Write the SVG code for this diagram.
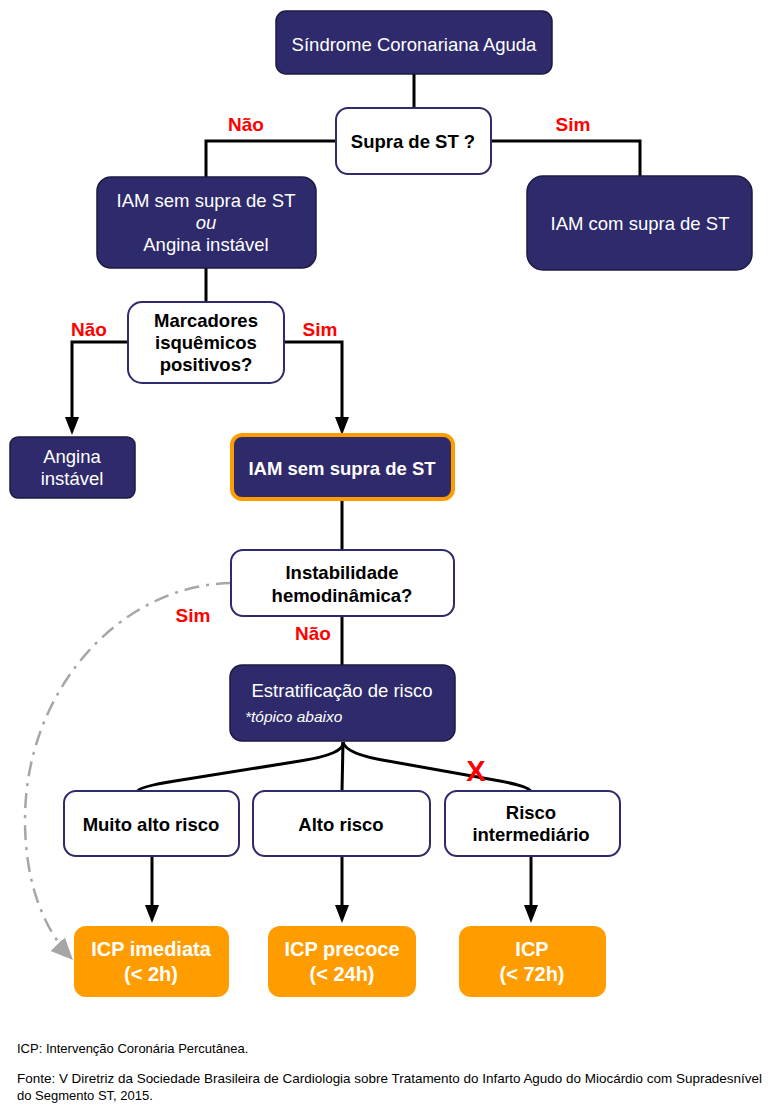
<svg xmlns="http://www.w3.org/2000/svg" width="777" height="1113" viewBox="0 0 777 1113">
<defs>
<marker id="garr" viewBox="0 0 10 10" refX="10" refY="5" markerWidth="22" markerHeight="22" markerUnits="userSpaceOnUse" orient="auto"><path d="M0,0.5 L10,5 L0,9.5 z" fill="#a6a6a6"/></marker>
<style>
text{font-family:"Liberation Sans",Arial,sans-serif;text-anchor:middle}
.navy{fill:#2e2a6b;stroke:#1c1a40;stroke-width:1.5}
.white{fill:#fff;stroke:#2e2a6b;stroke-width:2}
.orange{fill:#ff9c00;stroke:none}
.wt{fill:#fff;font-size:18.5px}
.bt{fill:#000;font-size:18.5px;font-weight:bold}
.ot{fill:#fff;font-size:20px;font-weight:bold}
.lbl{fill:#ff0000;font-size:19px;font-weight:bold}
.ln{fill:none;stroke:#000;stroke-width:3}
.ah{fill:#000}
.foot{fill:#000;font-size:13px;text-anchor:start}
</style>
</defs>
<g id="connectors">
<path class="ln" d="M414,74 V108"/>
<path class="ln" d="M336,141 H206 V178"/>
<path class="ln" d="M491,141 H640 V176"/>
<path class="ln" d="M206,268 V302"/>
<path class="ln" d="M128,342 H72 V420"/>
<path class="ah" d="M65,417 L79,417 L72,435 z"/>
<path class="ln" d="M284,342 H342 V420"/>
<path class="ah" d="M335,417 L349,417 L342,435 z"/>
<path class="ln" d="M342,500 V551"/>
<path class="ln" d="M342,616 V665"/>
<path class="ln" d="M343,742 Q345,754 300,761 L175,781 Q137,787 137,792"/>
<path class="ln" d="M343,742 L342,792"/>
<path class="ln" d="M343,742 Q345,754 388,761 L500,781 Q531,787 531,792"/>
<path class="ln" d="M152,856 V908"/>
<path class="ah" d="M145,905 L159,905 L152,923 z"/>
<path class="ln" d="M342,856 V908"/>
<path class="ah" d="M335,905 L349,905 L342,923 z"/>
<path class="ln" d="M531,856 V908"/>
<path class="ah" d="M524,905 L538,905 L531,923 z"/>
<path d="M231,583 C120,585 25,690 25,820 C25,880 42,928 73,960" fill="none" stroke="#a6a6a6" stroke-width="2.5" stroke-dasharray="15,7,3,7" marker-end="url(#garr)"/>
<text class="lbl" x="246" y="131">Não</text>
<text class="lbl" x="573" y="131">Sim</text>
<text class="lbl" x="89" y="336">Não</text>
<text class="lbl" x="320" y="336">Sim</text>
<text class="lbl" x="313" y="640">Não</text>
<text class="lbl" x="193" y="622">Sim</text>
<text x="476" y="781" fill="#ff0000" font-size="29" font-weight="bold">X</text>
</g>
<g id="n-sca"><rect class="navy" x="276" y="11" width="276" height="63" rx="10"/><text class="wt" x="414" y="51">Síndrome Coronariana Aguda</text></g>
<g id="n-supra"><rect class="white" x="336" y="108" width="155" height="66" rx="12"/><text class="bt" x="413" y="148">Supra de ST ?</text></g>
<g id="n-iamsem-ou"><rect class="navy" x="97" y="177" width="219" height="91" rx="14"/><text class="wt" x="206" y="207">IAM sem supra de ST</text><text class="wt" x="206" y="229" font-style="italic">ou</text><text class="wt" x="206" y="251">Angina instável</text></g>
<g id="n-iamcom"><rect class="navy" x="527" y="176" width="225" height="94" rx="16" stroke="#8a88b0"/><text class="wt" x="640" y="230">IAM com supra de ST</text></g>
<g id="n-marc"><rect class="white" x="128" y="302" width="156" height="81" rx="14"/><text class="bt" x="206" y="327">Marcadores</text><text class="bt" x="206" y="349">isquêmicos</text><text class="bt" x="206" y="371">positivos?</text></g>
<g id="n-angina"><rect class="navy" x="10" y="437" width="125" height="61" rx="8" stroke="#4a4680"/><text class="wt" x="72" y="463">Angina</text><text class="wt" x="72" y="485">instável</text></g>
<g id="n-iamsem"><rect x="232" y="435" width="221" height="64" rx="10" fill="#2e2a6b" stroke="#ff9c00" stroke-width="4"/><text class="bt" x="342" y="475" style="fill:#fff">IAM sem supra de ST</text></g>
<g id="n-instab"><rect class="white" x="231" y="550" width="223" height="66" rx="12"/><text class="bt" x="342" y="579">Instabilidade</text><text class="bt" x="342" y="602">hemodinâmica?</text></g>
<g id="n-estrat"><rect class="navy" x="230" y="665" width="225" height="76" rx="12" stroke="#2e2a6b"/><text class="wt" x="342" y="697">Estratificação de risco</text><text x="245" y="722" fill="#fff" font-size="15.5" font-style="italic" style="text-anchor:start">*tópico abaixo</text></g>
<g id="n-muito"><rect class="white" x="64" y="791" width="175" height="65" rx="12"/><text class="bt" x="151" y="831">Muito alto risco</text></g>
<g id="n-alto"><rect class="white" x="253" y="791" width="177" height="65" rx="12"/><text class="bt" x="341" y="831">Alto risco</text></g>
<g id="n-inter"><rect class="white" x="445" y="791" width="175" height="65" rx="12"/><text class="bt" x="531" y="819">Risco</text><text class="bt" x="531" y="841">intermediário</text></g>
<g id="n-icp1"><rect class="orange" x="74" y="926" width="155" height="71" rx="12"/><text class="ot" x="151" y="956">ICP imediata</text><text class="ot" x="151" y="981">(&lt; 2h)</text></g>
<g id="n-icp2"><rect class="orange" x="268" y="926" width="148" height="71" rx="12"/><text class="ot" x="342" y="956">ICP precoce</text><text class="ot" x="342" y="981">(&lt; 24h)</text></g>
<g id="n-icp3"><rect class="orange" x="459" y="926" width="147" height="71" rx="12"/><text class="ot" x="532" y="956">ICP</text><text class="ot" x="532" y="981">(&lt; 72h)</text></g>
<g id="footer">
<text class="foot" x="17" y="1053">ICP: Intervenção Coronária Percutânea.</text>
<text class="foot" x="17" y="1083" textLength="745" lengthAdjust="spacingAndGlyphs">Fonte: V Diretriz da Sociedade Brasileira de Cardiologia sobre Tratamento do Infarto Agudo do Miocárdio com Supradesnível</text>
<text class="foot" x="17" y="1100">do Segmento ST, 2015.</text>
</g>
</svg>
